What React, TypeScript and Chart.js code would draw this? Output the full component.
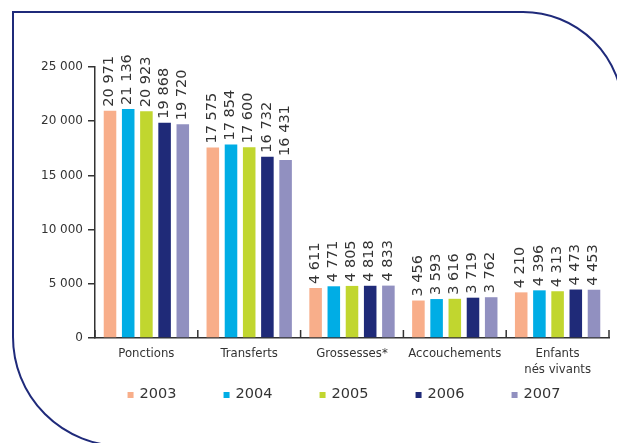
import React, { useEffect, useRef } from "react";
import { Chart, registerables } from "chart.js";

Chart.register(...registerables);

const categories: (string | string[])[] = [
  "Ponctions",
  "Transferts",
  "Grossesses*",
  "Accouchements",
  ["Enfants", "nés vivants"],
];
const years = ["2003", "2004", "2005", "2006", "2007"];
const s2003 = [20971, 17575, 4611, 3456, 4210];
const s2004 = [21136, 17854, 4771, 3593, 4396];
const s2005 = [20923, 17600, 4805, 3616, 4313];
const s2006 = [19868, 16732, 4818, 3719, 4473];
const s2007 = [19720, 16431, 4833, 3762, 4453];
const yTicks = [0, 5000, 10000, 15000, 20000, 25000];
const colors = ["#F8AE8A", "#00ADE5", "#C1D62F", "#1F2A78", "#9190C0"];

const COND = "'DejaVu Sans Condensed', 'DejaVu Sans', sans-serif";
const NORM = "'DejaVu Sans', sans-serif";
const TEXT = "#333333";

const fmt = (v: number) => {
  const s = String(Math.round(v));
  return s.replace(/\B(?=(\d{3})+(?!\d))/g, " ");
};

const framePlugin = {
  id: "frame",
  beforeDraw(chart: any) {
    const ctx = chart.ctx;
    ctx.save();
    ctx.strokeStyle = "#1F2A7A";
    ctx.lineWidth = 2;
    ctx.beginPath();
    ctx.arc(122, 337, 109, Math.PI / 2, Math.PI);
    ctx.lineTo(13, 12);
    ctx.lineTo(523, 12);
    ctx.arc(523, 112, 100, -Math.PI / 2, 0);
    ctx.lineTo(623, 500);
    ctx.stroke();
    ctx.restore();
  },
};

const extrasPlugin = {
  id: "extras",
  afterDraw(chart: any) {
    const ctx = chart.ctx;
    const xs = chart.scales.x;
    const area = chart.chartArea;
    ctx.save();
    // category boundary ticks pointing up
    const half = (xs.getPixelForValue(1) - xs.getPixelForValue(0)) / 2;
    ctx.strokeStyle = TEXT;
    ctx.lineWidth = 1.5;
    ctx.beginPath();
    for (let i = 0; i <= categories.length; i++) {
      const x = i < categories.length ? xs.getPixelForValue(i) - half : xs.getPixelForValue(categories.length - 1) + half;
      ctx.moveTo(x, area.bottom - 8);
      ctx.lineTo(x, area.bottom);
    }
    ctx.stroke();

    // value labels
    ctx.fillStyle = TEXT;
    ctx.font = "14.5px " + NORM;
    ctx.textAlign = "left";
    ctx.textBaseline = "middle";
    chart.data.datasets.forEach((ds: any, di: number) => {
      const meta = chart.getDatasetMeta(di);
      meta.data.forEach((bar: any, i: number) => {
        ctx.save();
        ctx.translate(bar.x - 0.5, bar.y - 4);
        ctx.rotate(-Math.PI / 2);
        ctx.fillText(fmt(ds.data[i]), 0, 0);
        ctx.restore();
      });
    });

    // legend
    const pitch = 96;
    ctx.font = "14.5px " + NORM;
    const textW = ctx.measureText(years[0]).width;
    const itemW = 6 + 6 + textW;
    const total = pitch * (years.length - 1) + itemW;
    const cx = (area.left + area.right) / 2 - 8;
    const x0 = cx - total / 2;
    const ly = 394;
    chart.data.datasets.forEach((ds: any, di: number) => {
      const x = x0 + di * pitch;
      ctx.fillStyle = ds.backgroundColor;
      ctx.fillRect(x, ly - 2, 6, 6);
      ctx.fillStyle = TEXT;
      ctx.textAlign = "left";
      ctx.textBaseline = "middle";
      ctx.fillText(ds.label, x + 12, ly);
    });
    ctx.restore();
  },
};

export default function App() {
  const ref = useRef<HTMLCanvasElement>(null);
  useEffect(() => {
    if (!ref.current) return;
    const series = [s2003, s2004, s2005, s2006, s2007];
    const chart = new Chart(ref.current, {
      type: "bar",
      data: {
        labels: categories,
        datasets: series.map((d, i) => ({
          label: years[i],
          data: d,
          backgroundColor: colors[i],
          borderWidth: 0,
          categoryPercentage: 0.885,
          barPercentage: 0.69,
        })),
      },
      options: {
        responsive: false,
        animation: false,
        devicePixelRatio: 1,
        layout: { padding: { left: 0, right: 8, top: 67, bottom: 65 } },
        plugins: {
          legend: { display: false },
          tooltip: { enabled: false },
        },
        scales: {
          x: {
            grid: { display: true, drawOnChartArea: false, drawTicks: false },
            border: { display: true, color: TEXT, width: 1.5 },
            ticks: {
              color: TEXT,
              font: { family: COND, size: 13 },
              padding: 8,
              maxRotation: 0,
              autoSkip: false,
            },
            afterFit: (s: any) => {
              s.height = 40;
            },
          },
          y: {
            min: 0,
            max: 25000,
            afterBuildTicks: (s: any) => {
              s.ticks = yTicks.map((v) => ({ value: v }));
            },
            grid: { display: true, drawOnChartArea: false, drawTicks: true, tickLength: 7, color: TEXT, lineWidth: 1.5 },
            border: { display: true, color: TEXT, width: 1.5 },
            ticks: {
              color: TEXT,
              font: { family: NORM, size: 12 },
              padding: 5,
              callback: (v: any) => fmt(Number(v)),
            },
            afterFit: (s: any) => {
              s.width = 95;
            },
          },
        },
      },
      plugins: [framePlugin, extrasPlugin],
    });
    return () => chart.destroy();
  }, []);
  return (
    <div style={{ position: "fixed", left: 0, top: 0, width: 617, height: 443, background: "#fff" }}>
      <canvas ref={ref} width={617} height={443} style={{ display: "block" }} />
    </div>
  );
}
